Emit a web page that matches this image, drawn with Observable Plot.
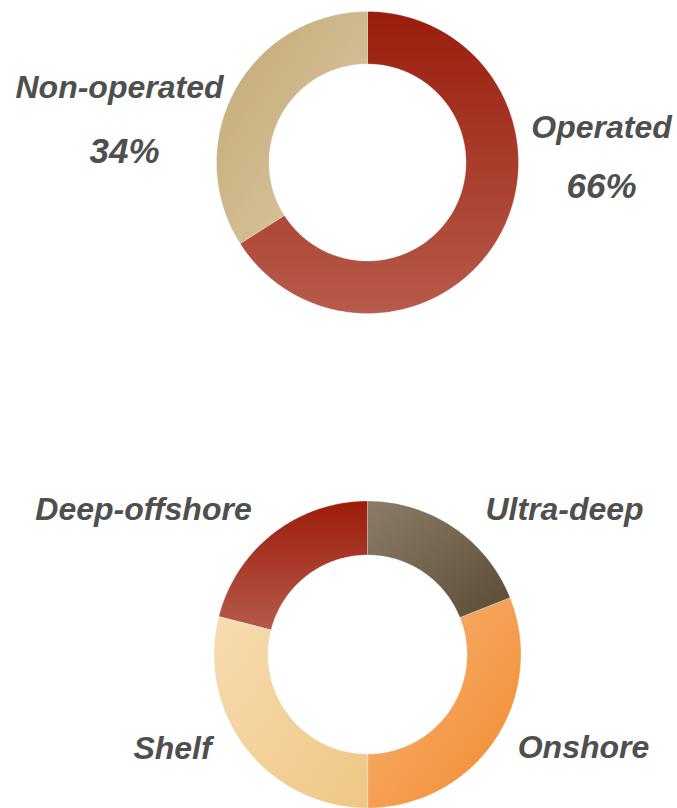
<!DOCTYPE html>
<html>
<head>
<meta charset="utf-8">
<script src="https://cdn.jsdelivr.net/npm/d3@7"></script>
<script src="https://cdn.jsdelivr.net/npm/@observablehq/plot@0.6"></script>
<style>
  html, body { margin: 0; padding: 0; background: #fff; }
  #chart svg { display: block; }
</style>
</head>
<body>
<div id="chart"></div>
<script>
// ---- data ----
const ownershipLabels = ["Operated", "Non-operated"];
const ownershipValues = [66, 34];
const terrainLabels = ["Ultra-deep", "Onshore", "Shelf", "Deep-offshore"];
const terrainValues = [19, 31, 29, 21];

// ---- layout (code, not data) ----
const W = 677, H = 808;
const donuts = [
  {labels: ownershipLabels, values: ownershipValues, cx: 367, cy: 162, r0: 98.5, r1: 151,
   grads: [["#9a1d0c", "#b75b4b", "v"], ["#c2a874", "#ddcba6", "d"]]},
  {labels: terrainLabels, values: terrainValues, cx: 367, cy: 654, r0: 99.5, r1: 153.5,
   grads: [["#8b7d68", "#5a4c33", "d"], ["#f7b57b", "#f28a2b", "d"], ["#f7dcb1", "#efc784", "d"], ["#9c1c0b", "#b55a4b", "v"]]}
];
const labelPos = {
  "Operated": [601, 127], "Non-operated": [119, 87],
  "Ultra-deep": [564, 509], "Onshore": [583, 747], "Shelf": [172, 748], "Deep-offshore": [143, 509]
};
const pctPos = {"Operated": [601, 186], "Non-operated": [124, 151]};

// ---- build slice polygons from the data with d3.pie ----
const pie = d3.pie().sort(null).startAngle(0).endAngle(2 * Math.PI);
const slices = [];
donuts.forEach((dn, di) => {
  pie(dn.values).forEach((a, i) => {
    const pts = [];
    const n = Math.max(8, Math.ceil((a.endAngle - a.startAngle) / (Math.PI / 360)));
    for (let k = 0; k <= n; k++) {
      const t = a.startAngle + (a.endAngle - a.startAngle) * k / n;
      pts.push({x: dn.cx + dn.r1 * Math.sin(t), y: dn.cy - dn.r1 * Math.cos(t)});
    }
    for (let k = n; k >= 0; k--) {
      const t = a.startAngle + (a.endAngle - a.startAngle) * k / n;
      pts.push({x: dn.cx + dn.r0 * Math.sin(t), y: dn.cy - dn.r0 * Math.cos(t)});
    }
    slices.push({id: `g${di}_${i}`, label: dn.labels[i], value: dn.values[i], pts, grad: dn.grads[i]});
  });
});

const labelData = donuts.flatMap(dn => dn.labels.map((l, i) => ({label: l, value: dn.values[i]})));
const pctData = donuts[0].labels.map((l, i) => ({label: l, text: `${donuts[0].values[i]}%`}));

const textStyle = {fontFamily: "'Liberation Sans', Arial, sans-serif", fontWeight: "bold", fontStyle: "italic", fill: "#4f4f4f", textAnchor: "middle", lineAnchor: "middle"};

const chart = Plot.plot({
  width: W, height: H, margin: 0,
  x: {domain: [0, W], range: [0, W], axis: null},
  y: {domain: [0, H], range: [0, H], axis: null},
  marks: [
    ...slices.map(s => Plot.line(s.pts, {x: "x", y: "y", curve: "linear-closed", fill: `url(#${s.id})`, stroke: "#ffffff", strokeWidth: 0.6, strokeOpacity: 0.5})),
    Plot.text(labelData, {x: d => labelPos[d.label][0], y: d => labelPos[d.label][1], text: "label", fontSize: 32, ...textStyle}),
    Plot.text(pctData, {x: d => pctPos[d.label][0], y: d => pctPos[d.label][1], text: "text", fontSize: 35, ...textStyle})
  ]
});

// gradients
const defs = d3.select(chart).insert("defs", ":first-child");
slices.forEach(s => {
  const [c0, c1, dir] = s.grad;
  const g = defs.append("linearGradient").attr("id", s.id)
    .attr("x1", 0).attr("y1", 0)
    .attr("x2", dir === "v" ? 0 : 1).attr("y2", 1);
  g.append("stop").attr("offset", "0%").attr("stop-color", c0);
  g.append("stop").attr("offset", "100%").attr("stop-color", c1);
});

document.getElementById("chart").appendChild(chart);
</script>
</body>
</html>
